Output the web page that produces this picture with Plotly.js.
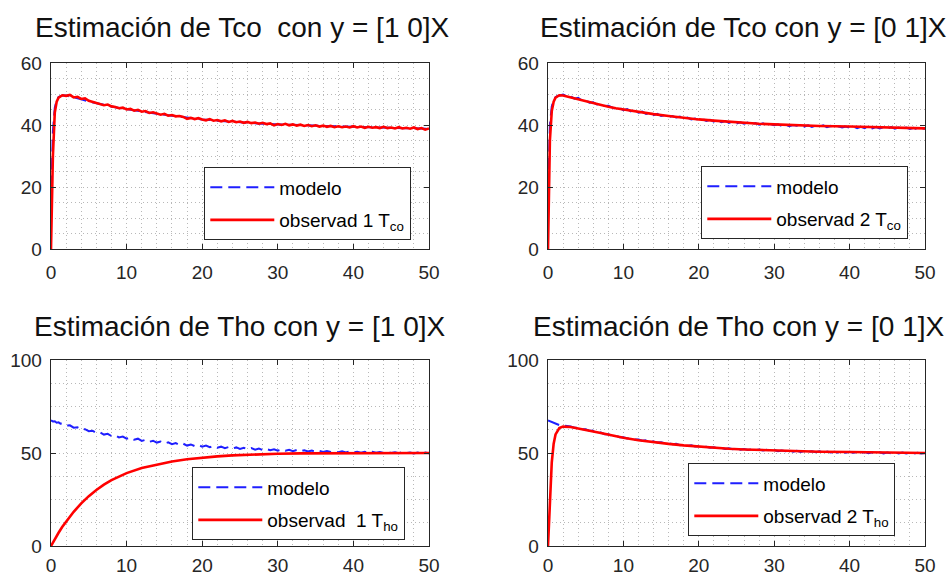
<!DOCTYPE html>
<html>
<head>
<meta charset="utf-8">
<script src="https://cdn.plot.ly/plotly-3.0.1.min.js"></script>
<style>html,body{margin:0;padding:0;background:#fff;}#chart{width:948px;height:575px;}</style>
</head>
<body>
<div id="chart"></div>
<script>
// ---- data ----
const tFine = [0,0.25,0.5,0.75,1,1.25,1.5,2,2.5,3,3.5,4,4.5,5,5.5,6,6.5,7,7.5,8,8.5,9,9.5,10,10.5,11,11.5,12,12.5,13,13.5,14,14.5,15,15.5,16,16.5,17,17.5,18,18.5,19,19.5,20,20.5,21,21.5,22,22.5,23,23.5,24,24.5,25,25.5,26,26.5,27,27.5,28,28.5,29,29.5,30,30.5,31,31.5,32,32.5,33,33.5,34,34.5,35,35.5,36,36.5,37,37.5,38,38.5,39,39.5,40,40.5,41,41.5,42,42.5,43,43.5,44,44.5,45,45.5,46,46.5,47,47.5,48,48.5,49,49.5,50];
const tSmooth = [0,0.25,0.5,0.75,1,1.5,2,3,4,5,6,7,8,9,10,12,14,16,18,20,22,24,26,28,30,33,36,40,45,50];

// Tco, y = [1 0]X
const tlModel = [14,38,45.5,48,49,49.5,49.5,49,48.3,47.6,47,46.5,46,45.5,45.1,44.3,43.6,43,42.3,41.8,41.4,41,40.7,40.4,40.2,39.9,39.7,39.4,39.1,38.8];
const tlObs = [0,30,44,47.5,48.8,49.3,49.6,
 49.4,49.7,48.9,49.1,48.4,48.6,47.8,47.5,47.0,46.9,
 46.4,46.6,46.0,45.8,45.4,45.6,45.0,45.2,44.6,44.9,
 44.3,44.5,43.9,44.1,43.6,43.3,43.6,43.0,43.2,42.8,
 42.9,42.6,42.0,42.3,41.9,42.2,41.8,41.5,41.9,41.4,
 41.6,41.2,41.5,41.0,41.3,40.9,41.1,40.7,41.0,40.6,
 40.8,40.4,40.7,40.3,40.5,39.9,40.3,40.0,40.4,39.9,
 40.2,39.8,40.1,39.7,40.0,39.6,39.9,39.5,39.8,39.4,
 39.7,39.3,39.6,39.3,39.5,39.2,39.6,39.2,39.5,39.1,
 39.4,39.1,39.3,39.0,39.4,39.0,39.2,38.9,39.3,38.9,
 39.1,38.8,39.2,38.7,39.0,38.5,38.9];

// Tco, y = [0 1]X
const trModel = [14,40,46,48,49,49.4,49.5,
 49.8,49.2,49.3,48.5,48.8,47.9,48.0,47.2,47.3,46.6,
 46.8,46.1,46.2,45.7,45.1,45.5,44.8,45.1,44.4,44.7,
 44.0,44.3,43.6,43.9,43.2,43.6,42.9,43.2,42.6,42.9,
 42.4,42.7,42.0,42.4,41.8,42.1,41.6,41.9,41.3,41.7,
 41.1,41.5,40.9,41.3,40.7,41.1,40.5,40.9,40.4,40.8,
 40.2,40.6,40.1,40.5,39.9,40.3,39.9,40.2,39.7,40.1,
 39.6,40.0,39.8,40.3,39.5,39.9,39.4,39.8,39.5,39.9,
 39.3,39.7,39.2,39.6,39.2,39.5,39.1,39.5,39.0,39.4,
 39.0,39.4,38.9,39.3,38.9,39.3,38.8,39.3,38.8,39.2,
 38.7,39.2,38.7,39.1,38.6,39.1,38.7];
const trObs = [0,35,44.5,47.5,48.8,49.6,49.5,48.9,48.2,47.5,46.9,46.4,45.9,45.4,45.0,44.2,43.5,42.9,42.3,41.8,41.4,41.0,40.7,40.4,40.2,39.9,39.7,39.5,39.2,38.9];

// Tho, y = [1 0]X
const blModel = [67.6,67.0,67.1,66.3,66.5,65.8,65.9,
 64.8,64.9,63.6,63.8,62.6,62.8,61.7,62.0,60.7,61.0,
 59.9,60.3,59.1,59.5,58.4,58.8,57.7,58.3,57.1,57.7,
 56.5,57.1,56.0,56.6,55.6,56.1,55.1,55.7,54.7,55.3,
 54.3,55.0,54.0,54.6,53.7,54.3,53.4,54.0,53.1,53.7,
 52.8,53.4,52.6,53.2,52.4,53.0,52.2,52.8,52.0,52.6,
 51.8,52.4,51.6,52.2,51.5,52.0,51.3,51.9,51.2,51.7,
 51.0,51.6,50.9,51.5,50.8,51.3,50.7,51.2,50.6,51.1,
 50.5,51.0,50.4,50.9,50.3,50.8,50.3,50.7,50.2,50.6,
 50.1,50.6,50.1,50.5,50.0,50.5,50.0,50.4,49.9,50.4,
 49.9,50.3,49.8,50.3,49.8,50.2,49.9];
const blObs = [0,1.9,3.7,5.5,7.1,10.3,13.2,18.4,22.9,26.8,30.1,33.0,35.4,37.4,39.2,41.9,43.8,45.4,46.6,47.5,48.2,48.7,49.1,49.4,49.6,49.8,49.9,50.0,50.0,50.0];

// Tho, y = [0 1]X
const brModel = [67.5,67.1,66.6,66.2,65.7,65.5,65.0,
 64.7,64.5,64.3,63.6,63.6,62.8,62.8,61.9,61.9,61.0,
 61.0,60.1,60.1,59.3,59.3,58.5,58.5,57.8,58.0,57.2,
 57.3,56.6,56.8,56.1,56.2,55.6,55.8,55.1,55.3,54.7,
 54.9,54.2,54.5,53.8,54.1,53.5,53.7,53.1,53.4,52.8,
 53.1,52.5,52.8,52.2,52.6,52.0,52.4,51.8,52.2,51.6,
 52.0,51.5,51.9,51.3,51.7,51.1,51.6,51.0,51.4,50.9,
 51.3,50.7,51.2,50.6,51.0,50.5,50.9,50.4,50.9,50.3,
 50.8,50.3,50.7,50.2,50.7,50.1,50.6,50.1,50.5,50.0,
 50.5,49.9,50.4,49.9,50.4,49.8,50.3,49.8,50.3,49.8,
 50.2,49.7,50.2,49.7,50.1,49.7,50.0];
const brObs = [0,25,45,55,60,63.4,64.2,64.0,63.3,62.5,61.6,60.7,59.8,59.0,58.2,56.9,55.8,54.9,54.1,53.4,52.8,52.3,51.9,51.6,51.3,51.0,50.7,50.5,50.2,50.0];

const xTicks = [0,10,20,30,40,50];
const yTicksTco = [0,20,40,60];
const yTicksTho = [0,50,100];

const titles = ['Estimación de Tco  con y = [1 0]X','Estimación de Tco con y = [0 1]X','Estimación de Tho con y = [1 0]X','Estimación de Tho con y = [0 1]X'];
const modelName = 'modelo';
const obsNames = ['observad 1 T<sub>co</sub>','observad 2 T<sub>co</sub>','observad&nbsp; 1 T<sub>ho</sub>','observad 2 T<sub>ho</sub>'];

// ---- styling ----
const FONT = 'Liberation Sans, Arial, Helvetica, sans-serif';
const DARK = '#262626';
const GRID = '#b8b8b8';
const GDASH = '1px,3px';
const BLUE = '#1f1fff';
const RED = '#ff0000';

function xAxis(domain, anchor, standoff) {
  return {domain: domain, anchor: anchor, range: [0, 50], tickvals: xTicks, ticks: 'inside', ticklen: 5,
    tickcolor: DARK, showline: true, linecolor: DARK, linewidth: 1.3, mirror: 'ticks',
    showgrid: true, gridcolor: GRID, griddash: GDASH, gridwidth: 1, zeroline: false,
    minor: {tick0: 0, dtick: 2, showgrid: true, gridcolor: GRID, griddash: GDASH, gridwidth: 1},
    ticklabelstandoff: standoff,
    tickfont: {family: FONT, size: 19, color: DARK}, fixedrange: true};
}
function yAxis(domain, anchor, ticks, range, minorStep) {
  return {domain: domain, anchor: anchor, range: range, tickvals: ticks, ticks: 'inside', ticklen: 5,
    tickcolor: DARK, showline: true, linecolor: DARK, linewidth: 1.3, mirror: 'ticks',
    showgrid: true, gridcolor: GRID, griddash: GDASH, gridwidth: 1, zeroline: false,
    minor: {tick0: 0, dtick: minorStep, showgrid: true, gridcolor: GRID, griddash: GDASH, gridwidth: 1},
    ticklabelstandoff: 4,
    tickfont: {family: FONT, size: 19, color: DARK}, fixedrange: true};
}

const W = 948, H = 575;
const xL = [51 / W, 429 / W], xR = [548 / W, 925 / W];
const yT = [1 - 249 / H, 1 - 63 / H], yB = [1 - 546 / H, 1 - 360 / H];

const panels = [
  {xa: 'x', ya: 'y', model: [tSmooth, tlModel], obs: [tFine, tlObs], leg: 'legend'},
  {xa: 'x2', ya: 'y2', model: [tFine, trModel], obs: [tSmooth, trObs], leg: 'legend2'},
  {xa: 'x3', ya: 'y3', model: [tFine, blModel], obs: [tSmooth, blObs], leg: 'legend3'},
  {xa: 'x4', ya: 'y4', model: [tFine, brModel], obs: [tSmooth, brObs], leg: 'legend4'}
];

const traces = [];
panels.forEach((p, i) => {
  traces.push({x: p.model[0], y: p.model[1], xaxis: p.xa, yaxis: p.ya, type: 'scatter', mode: 'lines',
    name: modelName, legend: p.leg, legendgroup: 'm' + i,
    line: {color: BLUE, width: 2, dash: '12px,6px'}});
  traces.push({x: p.obs[0], y: p.obs[1], xaxis: p.xa, yaxis: p.ya, type: 'scatter', mode: 'lines',
    name: obsNames[i], legend: p.leg, legendgroup: 'o' + i,
    line: {color: RED, width: 2.6}});
});

function legendAt(px, py) {
  return {x: px / W, y: 1 - py / H, xanchor: 'left', yanchor: 'top', bgcolor: '#ffffff',
    bordercolor: DARK, borderwidth: 1.3, font: {family: FONT, size: 19, color: '#000'},
    itemwidth: 64, traceorder: 'grouped', tracegroupgap: 5};
}

const titlePos = [[242.5, 28], [743.5, 28], [239.5, 326], [738, 326]];
const annotations = titles.map((t, i) => ({
  text: t, xref: 'paper', yref: 'paper', x: titlePos[i][0] / W, y: 1 - titlePos[i][1] / H,
  xanchor: 'center', yanchor: 'middle', showarrow: false,
  font: {family: FONT, size: 28, color: '#111'}
}));

const layout = {
  width: W, height: H, margin: {l: 0, r: 0, t: 0, b: 0},
  paper_bgcolor: '#fff', plot_bgcolor: '#fff', showlegend: true,
  xaxis: xAxis(xL, 'y', 6), yaxis: yAxis(yT, 'x', yTicksTco, [0, 60], 5),
  xaxis2: xAxis(xR, 'y2', 6), yaxis2: yAxis(yT, 'x2', yTicksTco, [0, 60], 5),
  xaxis3: xAxis(xL, 'y3', 2), yaxis3: yAxis(yB, 'x3', yTicksTho, [0, 100], 12.5),
  xaxis4: xAxis(xR, 'y4', 2), yaxis4: yAxis(yB, 'x4', yTicksTho, [0, 100], 12.5),
  legend: legendAt(204, 167), legend2: legendAt(701, 166),
  legend3: legendAt(192, 467), legend4: legendAt(688, 463),
  annotations: annotations
};

Plotly.newPlot('chart', traces, layout, {staticPlot: true, displayModeBar: false});
</script>
</body>
</html>
